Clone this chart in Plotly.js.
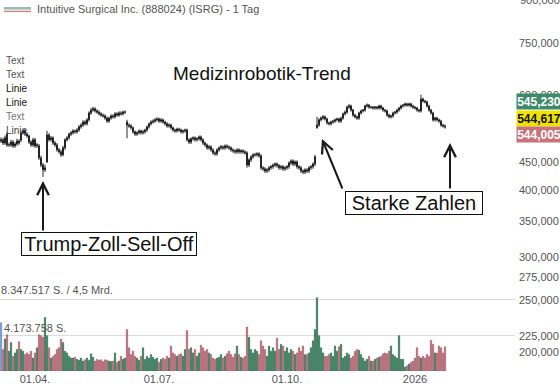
<!DOCTYPE html>
<html>
<head>
<meta charset="utf-8">
<script src="https://cdn.plot.ly/plotly-3.0.1.min.js"></script>
<style>html,body{margin:0;padding:0;background:#fff;}#chart{width:560px;height:389px;}</style>
</head>
<body>
<div id="chart"></div>
<script>
// ---- data (ISRG daily, price in USD, volume in millions of shares) ----
const tickIdx = [17, 79, 143, 207];
const tickLabels = ['01.04.', '01.07.', '01.10.', '2026'];
const priceTickVals = [750, 600, 450, 400, 350, 300, 275, 250, 214, 200];
const priceTickText = ['750,000','600,000','450,000','400,000','350,000','300,000','275,000','250,000','225,000','200,000'];
const topTickText = '900,000';
const volGrid = [4.173758, 8.347517];
const lastPrices = ['545,230', '544,617', '544,005'];

const opens = [
493,496,489,508,485,485,491,483,487,493,
495,511,515,508,504,491,485,496,483,483,
459,445,436,451,506,496,500,489,485,475,
471,465,479,496,500,508,511,515,513,517,
524,528,535,531,540,556,563,566,561,558,
554,551,549,544,537,544,549,547,554,551,
556,554,558,535,528,526,522,513,508,511,
515,511,513,517,524,531,535,537,540,542,
537,540,535,531,526,528,522,517,515,519,
517,513,515,517,496,491,498,500,496,498,
502,496,489,485,479,481,475,469,467,475,
479,481,479,483,481,479,475,473,471,475,
471,473,471,469,445,455,461,465,465,467,
463,440,438,434,436,440,442,445,447,444,
440,442,438,440,442,449,453,447,451,442,
440,434,432,436,434,440,442,447,522,528,
540,544,547,542,533,531,535,537,540,542,
537,544,554,558,570,573,563,551,547,544,
556,561,563,573,575,570,570,568,570,568,
573,568,563,561,551,547,549,556,558,563,
568,573,575,578,575,578,573,570,568,563,
561,590,585,583,573,563,556,540,544,540,
537,528,526];
const highs = [
501,500,505,512,490,496,495,491,498,497,
515,519,519,512,507,495,500,500,489,487,
463,449,446,515,510,504,503,493,489,479,
475,483,499,504,511,515,519,518,521,528,
532,539,539,544,560,568,571,570,565,562,
558,555,553,548,547,553,553,558,558,560,
560,562,562,540,532,530,525,516,514,518,
518,517,520,527,534,539,541,544,546,545,
544,543,538,535,532,531,525,520,522,522,
520,518,520,520,499,501,503,503,501,505,
505,499,492,488,485,484,478,472,478,482,
485,484,486,486,484,482,478,476,478,478,
476,476,474,472,458,464,468,469,470,470,
466,443,441,439,443,445,448,450,450,447,
445,445,443,445,452,456,456,454,454,445,
443,437,439,439,443,445,450,465,547,544,
548,551,550,545,536,538,540,543,545,545,
547,557,562,574,578,576,566,554,550,559,
564,566,576,579,578,573,573,573,573,576,
576,571,566,564,554,552,559,561,566,571,
576,578,581,581,581,581,576,573,571,566,
601,594,588,586,576,566,559,547,547,543,
540,531,529];
const lows = [
489,485,485,481,481,481,479,479,483,485,
491,507,504,500,487,481,481,479,479,455,
441,423,432,449,492,492,485,481,471,467,
461,462,475,492,496,504,507,509,509,513,
520,524,527,527,536,552,559,557,554,550,
547,545,540,533,533,540,543,543,547,547,
550,550,554,499,522,518,509,504,504,507,
507,507,509,513,520,527,531,533,536,533,
533,531,527,522,522,518,513,511,511,513,
509,509,511,492,487,487,494,492,492,494,
492,485,481,475,475,471,465,463,463,471,
475,475,475,477,475,471,469,467,467,467,
467,467,465,440,441,451,457,461,461,459,
436,434,430,430,432,436,438,441,440,436,
436,434,434,436,438,445,443,443,438,436,
430,428,428,430,430,436,438,443,520,524,
536,540,538,529,527,527,531,533,536,533,
533,540,550,554,566,559,547,543,540,540,
552,557,559,569,566,566,564,564,564,564,
564,559,557,547,543,543,545,552,554,559,
564,569,571,571,571,569,566,564,559,557,
557,581,579,569,559,552,536,536,536,533,
524,522,520];
const closes = [
496,489,500,485,485,491,483,487,493,489,
511,515,508,504,491,485,496,483,485,459,
445,436,440,506,496,500,489,485,475,471,
465,479,496,500,508,511,515,513,517,524,
528,535,531,540,556,563,566,561,558,554,
551,549,544,537,544,549,547,554,551,556,
554,558,558,528,526,522,513,508,511,515,
511,513,517,524,531,535,537,540,542,537,
540,535,531,526,528,522,517,515,519,517,
513,515,517,496,491,498,500,496,498,502,
496,489,485,479,481,475,469,467,475,479,
481,479,483,481,479,475,473,471,475,471,
473,471,469,445,455,461,465,465,467,463,
440,438,434,436,440,442,445,447,444,440,
442,438,440,442,449,453,447,451,442,440,
434,432,436,434,440,442,447,461,528,540,
544,547,542,533,531,535,537,540,542,537,
544,554,558,570,573,563,551,547,544,556,
561,563,573,575,570,570,568,570,568,573,
568,563,561,551,547,549,556,558,563,568,
573,575,578,575,578,573,570,568,563,561,
590,585,583,573,563,556,540,544,540,537,
528,526,524];
const volumes = [
5.6,2.5,3.7,4.2,2.3,3.3,1.7,2.1,2.5,3.4,
2.5,2.3,1.9,2.1,1.9,2.3,1.5,2.1,2.7,4.2,
4.1,3.9,6.2,4.1,2.7,1.5,1.7,1.9,2.5,2.7,
3.7,3.3,2.3,2.1,1.7,1.5,1.5,1.6,1.35,1.25,
1.5,1.15,1.3,1.5,1.25,2.0,1.6,1.15,1.35,1.25,
1.3,1.1,1.3,1.25,1.15,1.1,1.15,2.1,1.0,1.15,
1.7,1.35,1.5,4.8,2.7,1.9,2.3,1.7,1.5,1.25,
1.7,2.7,1.35,1.7,1.5,1.9,1.6,1.35,1.5,1.0,
1.35,1.5,1.35,1.7,1.5,2.9,2.1,1.9,1.7,1.9,
2.0,1.7,2.5,4.7,2.5,2.7,2.1,2.5,1.7,2.1,
3.0,2.7,2.3,2.5,2.1,1.9,1.5,1.35,1.5,1.6,
1.9,1.5,1.7,2.0,2.3,1.9,1.6,2.0,2.9,1.9,
1.6,1.5,1.7,5.1,3.9,2.5,2.1,2.5,2.3,1.9,
3.5,2.9,2.5,1.7,2.9,2.3,2.7,2.3,3.8,2.5,
3.1,2.9,2.3,2.7,2.1,2.5,2.3,1.9,2.1,2.7,
2.3,2.9,1.9,1.9,2.1,2.7,3.5,4.8,8.5,4.1,
2.7,2.1,1.7,1.7,1.9,2.1,1.7,2.9,2.3,2.8,
3.1,1.5,1.7,2.1,1.9,1.5,1.7,2.3,2.5,2.4,
1.9,1.5,1.15,1.35,1.7,1.15,1.15,1.35,1.5,1.6,
1.7,2.0,2.1,2.0,2.3,2.9,1.9,1.7,1.5,4.1,
1.35,1.35,0.45,0.6,0.8,1.0,1.15,1.5,2.7,1.7,
1.5,1.7,1.5,1.9,1.7,3.55,3.1,2.1,2.1,2.9,
2.7,2.1,2.8];

// ---- drawing ----
const idx = closes.map((_, i) => i);
const W = 560, H = 389, ML = 0, MR = 45, MT = 0, MB = 18;
const PW = W - ML - MR, PH = H - MT - MB;
const px = x => (x - ML) / PW;
const py = y => (PH + MT - y) / PH;

const GREEN = '#2f7a58', RED = '#c06877';
const volColors = closes.map((c, i) => i === 0 ? '#6f95dc' : (c >= opens[i] ? GREEN : RED));
const volLine = closes.map((c, i) => i === 0 ? '#4f6fb0' : (c >= opens[i] ? '#1f5a40' : '#8f4552'));

const traces = [
  {
    type: 'bar', x: idx, y: volumes, yaxis: 'y2',
    marker: {color: volColors, line: {color: volLine, width: 0.4}},
    hoverinfo: 'skip'
  },
  {
    type: 'candlestick', x: idx, open: opens, high: highs, low: lows, close: closes,
    increasing: {line: {color: '#111', width: 0.9}, fillcolor: '#6aa58d'},
    decreasing: {line: {color: '#111', width: 0.9}, fillcolor: '#c98c96'},
    whiskerwidth: 0, hoverinfo: 'skip'
  }
];

const FONT = 'Liberation Sans, Arial, sans-serif';
const ann = [];
function txt(text, x, y, opt) {
  ann.push(Object.assign({text: text, xref: 'paper', yref: 'paper', x: px(x), y: py(y),
    xanchor: 'left', yanchor: 'middle', showarrow: false,
    font: {family: FONT, size: 11, color: '#555'}}, opt || {}));
}
txt('Intuitive Surgical Inc. (888024) (ISRG) - 1 Tag', 35, 9);
const leftLabels = [['Text', 61, '#555'], ['Text', 75, '#555'], ['Linie', 89, '#111'], ['Linie', 102, '#111'], ['Text', 117, '#777'], ['Linie', 130, '#444']];
leftLabels.forEach(l => txt(l[0], 4, l[1], {font: {family: FONT, size: 10, color: l[2]}}));
txt('Medizinrobotik-Trend', 262, 73, {xanchor: 'center', font: {family: FONT, size: 19, color: '#111'}});
txt('8.347.517 S. / 4,5 Mrd.', -1, 290, {font: {family: FONT, size: 11, color: '#555'}});
txt('4.173.758 S.', 2, 328, {font: {family: FONT, size: 11, color: '#555'}});
txt(topTickText, 518, 0, {font: {family: FONT, size: 11, color: '#555'}});

const boxStyle = {xanchor: 'center', font: {family: FONT, size: 20, color: '#111'},
  bgcolor: '#fff', bordercolor: '#111', borderwidth: 1, borderpad: 0, height: 22, align: 'center'};
txt('Trump-Zoll-Sell-Off', 109, 244, Object.assign({width: 174}, boxStyle));
txt('Starke Zahlen', 414, 203, Object.assign({width: 136}, boxStyle));

function arrow(hx, hy, tx, ty) {
  ann.push({text: '', xref: 'paper', yref: 'paper', x: px(hx), y: py(hy),
    ax: tx - hx, ay: ty - hy, showarrow: true, arrowhead: 5, arrowsize: 1.15,
    arrowwidth: 2, arrowcolor: '#1a1a1a', standoff: 0, startstandoff: 0});
}
arrow(43, 181, 43, 232);
arrow(322, 139, 343, 190);
arrow(450, 143, 450, 190);

// last price boxes
const boxColors = [['#3d8a6b', '#fff'], ['#efe100', '#111'], ['#c8727c', '#fff']];
const boxY = [101.5, 118.5, 134.5];
lastPrices.forEach((t, i) => {
  ann.push({text: '<b>' + t + '</b>', xref: 'paper', yref: 'paper', x: px(516), y: py(boxY[i]),
    xanchor: 'left', yanchor: 'middle', showarrow: false, width: 44, height: 15, align: 'center',
    bgcolor: boxColors[i][0], borderpad: 0,
    font: {family: FONT, size: 12, color: boxColors[i][1]}});
});

const shapes = [
  {type: 'line', xref: 'paper', yref: 'paper', x0: px(4), x1: px(31), y0: py(8), y1: py(8), line: {color: '#4f9a7c', width: 1.2}},
  {type: 'line', xref: 'paper', yref: 'paper', x0: px(4), x1: px(31), y0: py(9.8), y1: py(9.8), line: {color: '#bbbbbb', width: 1}},
  {type: 'line', xref: 'paper', yref: 'paper', x0: px(4), x1: px(31), y0: py(11.5), y1: py(11.5), line: {color: '#d07f8a', width: 1.2}}
];

const layout = {
  width: W, height: H,
  margin: {l: ML, r: MR, t: MT, b: MB, pad: 0},
  paper_bgcolor: '#fff', plot_bgcolor: '#fff',
  showlegend: false, bargap: 0.25,
  font: {family: FONT, size: 11, color: '#555'},
  xaxis: {range: [-0.5, 257], showgrid: false, zeroline: false, showline: false, ticks: '',
    tickmode: 'array', tickvals: tickIdx, ticktext: tickLabels, rangeslider: {visible: false},
    tickfont: {family: FONT, size: 11, color: '#555'}, fixedrange: true},
  yaxis: {type: 'log', side: 'right', range: [Math.log10(184.4), Math.log10(901.5)],
    showgrid: false, zeroline: false, showline: false, ticks: '',
    tickmode: 'array', tickvals: priceTickVals, ticktext: priceTickText,
    tickfont: {family: FONT, size: 11, color: '#555'}, ticklabelstandoff: 3},
  yaxis2: {overlaying: 'y', side: 'left', range: [0, PH / 8.625], showticklabels: false,
    tickmode: 'array', tickvals: volGrid, showgrid: true, gridcolor: '#dcdcdc', gridwidth: 1,
    zeroline: false, showline: false, ticks: ''},
  annotations: ann,
  shapes: shapes
};

Plotly.newPlot('chart', traces, layout, {displayModeBar: false, staticPlot: true});
</script>
</body>
</html>
